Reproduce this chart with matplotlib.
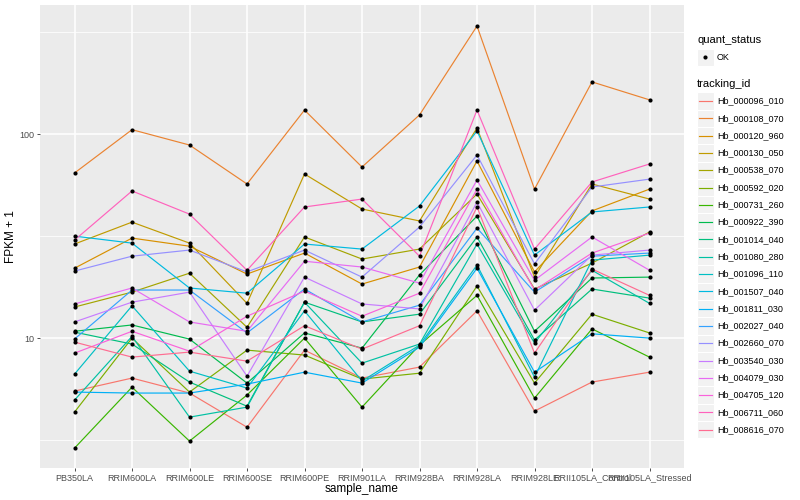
import matplotlib
matplotlib.use("Agg")
import matplotlib.pyplot as plt
from matplotlib.patches import Rectangle
import numpy as np

plt.rcParams['font.family'] = ['Liberation Sans', 'DejaVu Sans']

samples = ["PB350LA", "RRIM600LA", "RRIM600LE", "RRIM600SE", "RRIM600PE", "RRIM901LA",
           "RRIM928BA", "RRIM928LA", "RRIM928LE", "RRII105LA_Control", "RRII105LA_Stressed"]

tracking_ids = ["Hb_000096_010", "Hb_000108_070", "Hb_000120_960", "Hb_000130_050",
                "Hb_000538_070", "Hb_000592_020", "Hb_000731_260", "Hb_000922_390",
                "Hb_001014_040", "Hb_001080_280", "Hb_001096_110", "Hb_001507_040",
                "Hb_001811_030", "Hb_002027_040", "Hb_002660_070", "Hb_003540_030",
                "Hb_004079_030", "Hb_004705_120", "Hb_006711_060", "Hb_008616_070"]

# FPKM + 1 values per sample (same order as samples)
hb_000096_010 = [5.50, 6.37, 5.38, 3.66, 8.73, 6.37, 7.21, 13.6, 4.39, 6.09, 6.81]
hb_000108_070 = [64.4, 105, 88.3, 56.9, 131, 68.9, 124, 338, 53.7, 180, 147]
hb_000120_960 = [22.0, 30.9, 28.2, 20.6, 26.1, 18.4, 22.3, 73.8, 21.1, 42.0, 53.7]
hb_000130_050 = [28.9, 37.0, 29.2, 14.8, 63.7, 42.9, 37.5, 107, 19.9, 56.9, 48.0]
hb_000538_070 = [14.2, 16.8, 20.8, 11.3, 31.3, 24.4, 27.3, 50.8, 17.4, 23.3, 33.1]
hb_000592_020 = [4.34, 10.0, 5.44, 8.73, 8.26, 6.30, 6.73, 18.0, 6.02, 13.1, 10.6]
hb_000731_260 = [2.89, 5.75, 3.13, 5.26, 10.0, 4.59, 9.24, 16.2, 5.08, 11.1, 8.07]
hb_000922_390 = [10.8, 11.6, 9.89, 6.02, 10.6, 8.93, 20.4, 39.6, 10.8, 19.7, 19.9]
hb_001014_040 = [10.7, 9.35, 6.09, 4.64, 15.0, 12.0, 13.1, 31.3, 9.78, 17.4, 15.7]
hb_001080_280 = [4.97, 10.2, 4.10, 4.59, 15.0, 7.54, 9.35, 28.9, 9.45, 21.5, 14.8]
hb_001096_110 = [6.66, 14.4, 6.89, 5.69, 13.6, 6.16, 9.24, 22.8, 6.44, 24.1, 25.5]
hb_001507_040 = [31.6, 29.2, 17.6, 16.6, 28.9, 27.3, 44.4, 103.5, 25.5, 41.5, 43.9]
hb_001811_030 = [5.44, 5.38, 5.38, 5.95, 6.81, 6.02, 9.03, 22.0, 6.81, 10.5, 10.0]
hb_002027_040 = [9.89, 17.2, 17.2, 10.6, 17.4, 12.0, 14.5, 34.6, 16.8, 25.2, 26.1]
hb_002660_070 = [21.3, 25.2, 27.0, 21.1, 27.0, 19.9, 35.0, 78.9, 23.1, 55.0, 60.1]
hb_003540_030 = [12.0, 15.0, 16.8, 6.51, 19.9, 14.7, 13.9, 46.4, 13.7, 25.5, 27.0]
hb_004079_030 = [14.7, 17.6, 12.0, 10.8, 23.8, 22.3, 18.6, 59.5, 19.2, 31.3, 21.5]
hb_004705_120 = [8.44, 10.8, 8.63, 12.8, 17.0, 12.8, 16.6, 53.7, 17.2, 26.1, 32.7]
hb_006711_060 = [30.2, 52.6, 40.5, 21.5, 43.9, 48.0, 25.2, 131, 27.3, 58.2, 71.3]
hb_008616_070 = [9.56, 8.07, 8.54, 7.71, 11.5, 8.83, 11.5, 43.9, 8.44, 21.8, 16.2]

series = [hb_000096_010, hb_000108_070, hb_000120_960, hb_000130_050, hb_000538_070,
          hb_000592_020, hb_000731_260, hb_000922_390, hb_001014_040, hb_001080_280,
          hb_001096_110, hb_001507_040, hb_001811_030, hb_002027_040, hb_002660_070,
          hb_003540_030, hb_004079_030, hb_004705_120, hb_006711_060, hb_008616_070]

colors = ["#F8766D", "#EA8331", "#D89000", "#C09B00", "#A3A500", "#7CAE00", "#39B600",
          "#00BB4E", "#00BF7D", "#00C1A3", "#00BFC4", "#00BAE0", "#00B0F6", "#35A2FF",
          "#9590FF", "#C77CFF", "#E76BF3", "#FA62DB", "#FF62BC", "#FF6C91"]

fig = plt.figure(figsize=(8, 5), dpi=100)
ax = fig.add_axes([40/800, 1-468/500, 644/800, 463/500])
ax.set_facecolor("#EBEBEB")

x = np.arange(len(samples))
for vals, c in zip(series, colors):
    ax.plot(x, vals, color=c, lw=0.85, zorder=3, solid_capstyle='butt')
for vals in series:
    ax.plot(x, vals, 'o', color='black', ms=3.0, zorder=4, mec='none')

ax.set_yscale('log')
ax.set_ylim(2.31, 428.6)
ax.set_xlim(-0.6, len(samples) - 0.4)

ax.set_yticks([10, 100])
ax.set_yticklabels(["10", "100"])
ax.yaxis.set_minor_locator(matplotlib.ticker.FixedLocator([10**0.5, 10**1.5, 10**2.5]))
ax.yaxis.set_minor_formatter(matplotlib.ticker.NullFormatter())
ax.set_xticks(x)
ax.set_xticklabels(samples)

ax.grid(which='major', color='white', lw=1.1, zorder=1)
ax.grid(which='minor', axis='y', color='white', lw=0.55, zorder=1)
ax.set_axisbelow(True)
for s in ax.spines.values():
    s.set_visible(False)
ax.tick_params(which='major', length=2.5, width=0.6, color='#333333',
               labelsize=6.5, labelcolor='#4D4D4D', pad=1.5)
ax.tick_params(which='minor', length=0)

ax.set_xlabel("sample_name", fontsize=8.5, color='black', labelpad=0.5)
ax.set_ylabel("FPKM + 1", fontsize=8.5, color='black')
ax.yaxis.set_label_coords(-(40 - 17) / 644, 0.5)

# legend drawn in pixel coordinates
ov = fig.add_axes([0, 0, 1, 1], zorder=10)
ov.set_xlim(0, 800)
ov.set_ylim(500, 0)
ov.axis('off')

ov.text(697, 40, "quant_status", fontsize=8, va='center', ha='left')
ov.add_patch(Rectangle((697, 48.5), 16.5, 17, facecolor='#F2F2F2', edgecolor='white', lw=0.8))
ov.plot([705.25], [57], 'o', color='black', ms=3.0, mec='none')
ov.text(717, 57, "OK", fontsize=6.5, va='center', ha='left')

ov.text(697, 84, "tracking_id", fontsize=8, va='center', ha='left')
y0, dy = 101, 17.3
for i, (tid, c) in enumerate(zip(tracking_ids, colors)):
    yc = y0 + i * dy
    ov.add_patch(Rectangle((697, yc - dy/2), 16.5, dy, facecolor='#F2F2F2', edgecolor='white', lw=0.8))
    ov.plot([698.5, 711.5], [yc, yc], color=c, lw=0.85)
    ov.text(717, yc, tid, fontsize=6.5, va='center', ha='left')

fig.savefig("out.png", dpi=100)
